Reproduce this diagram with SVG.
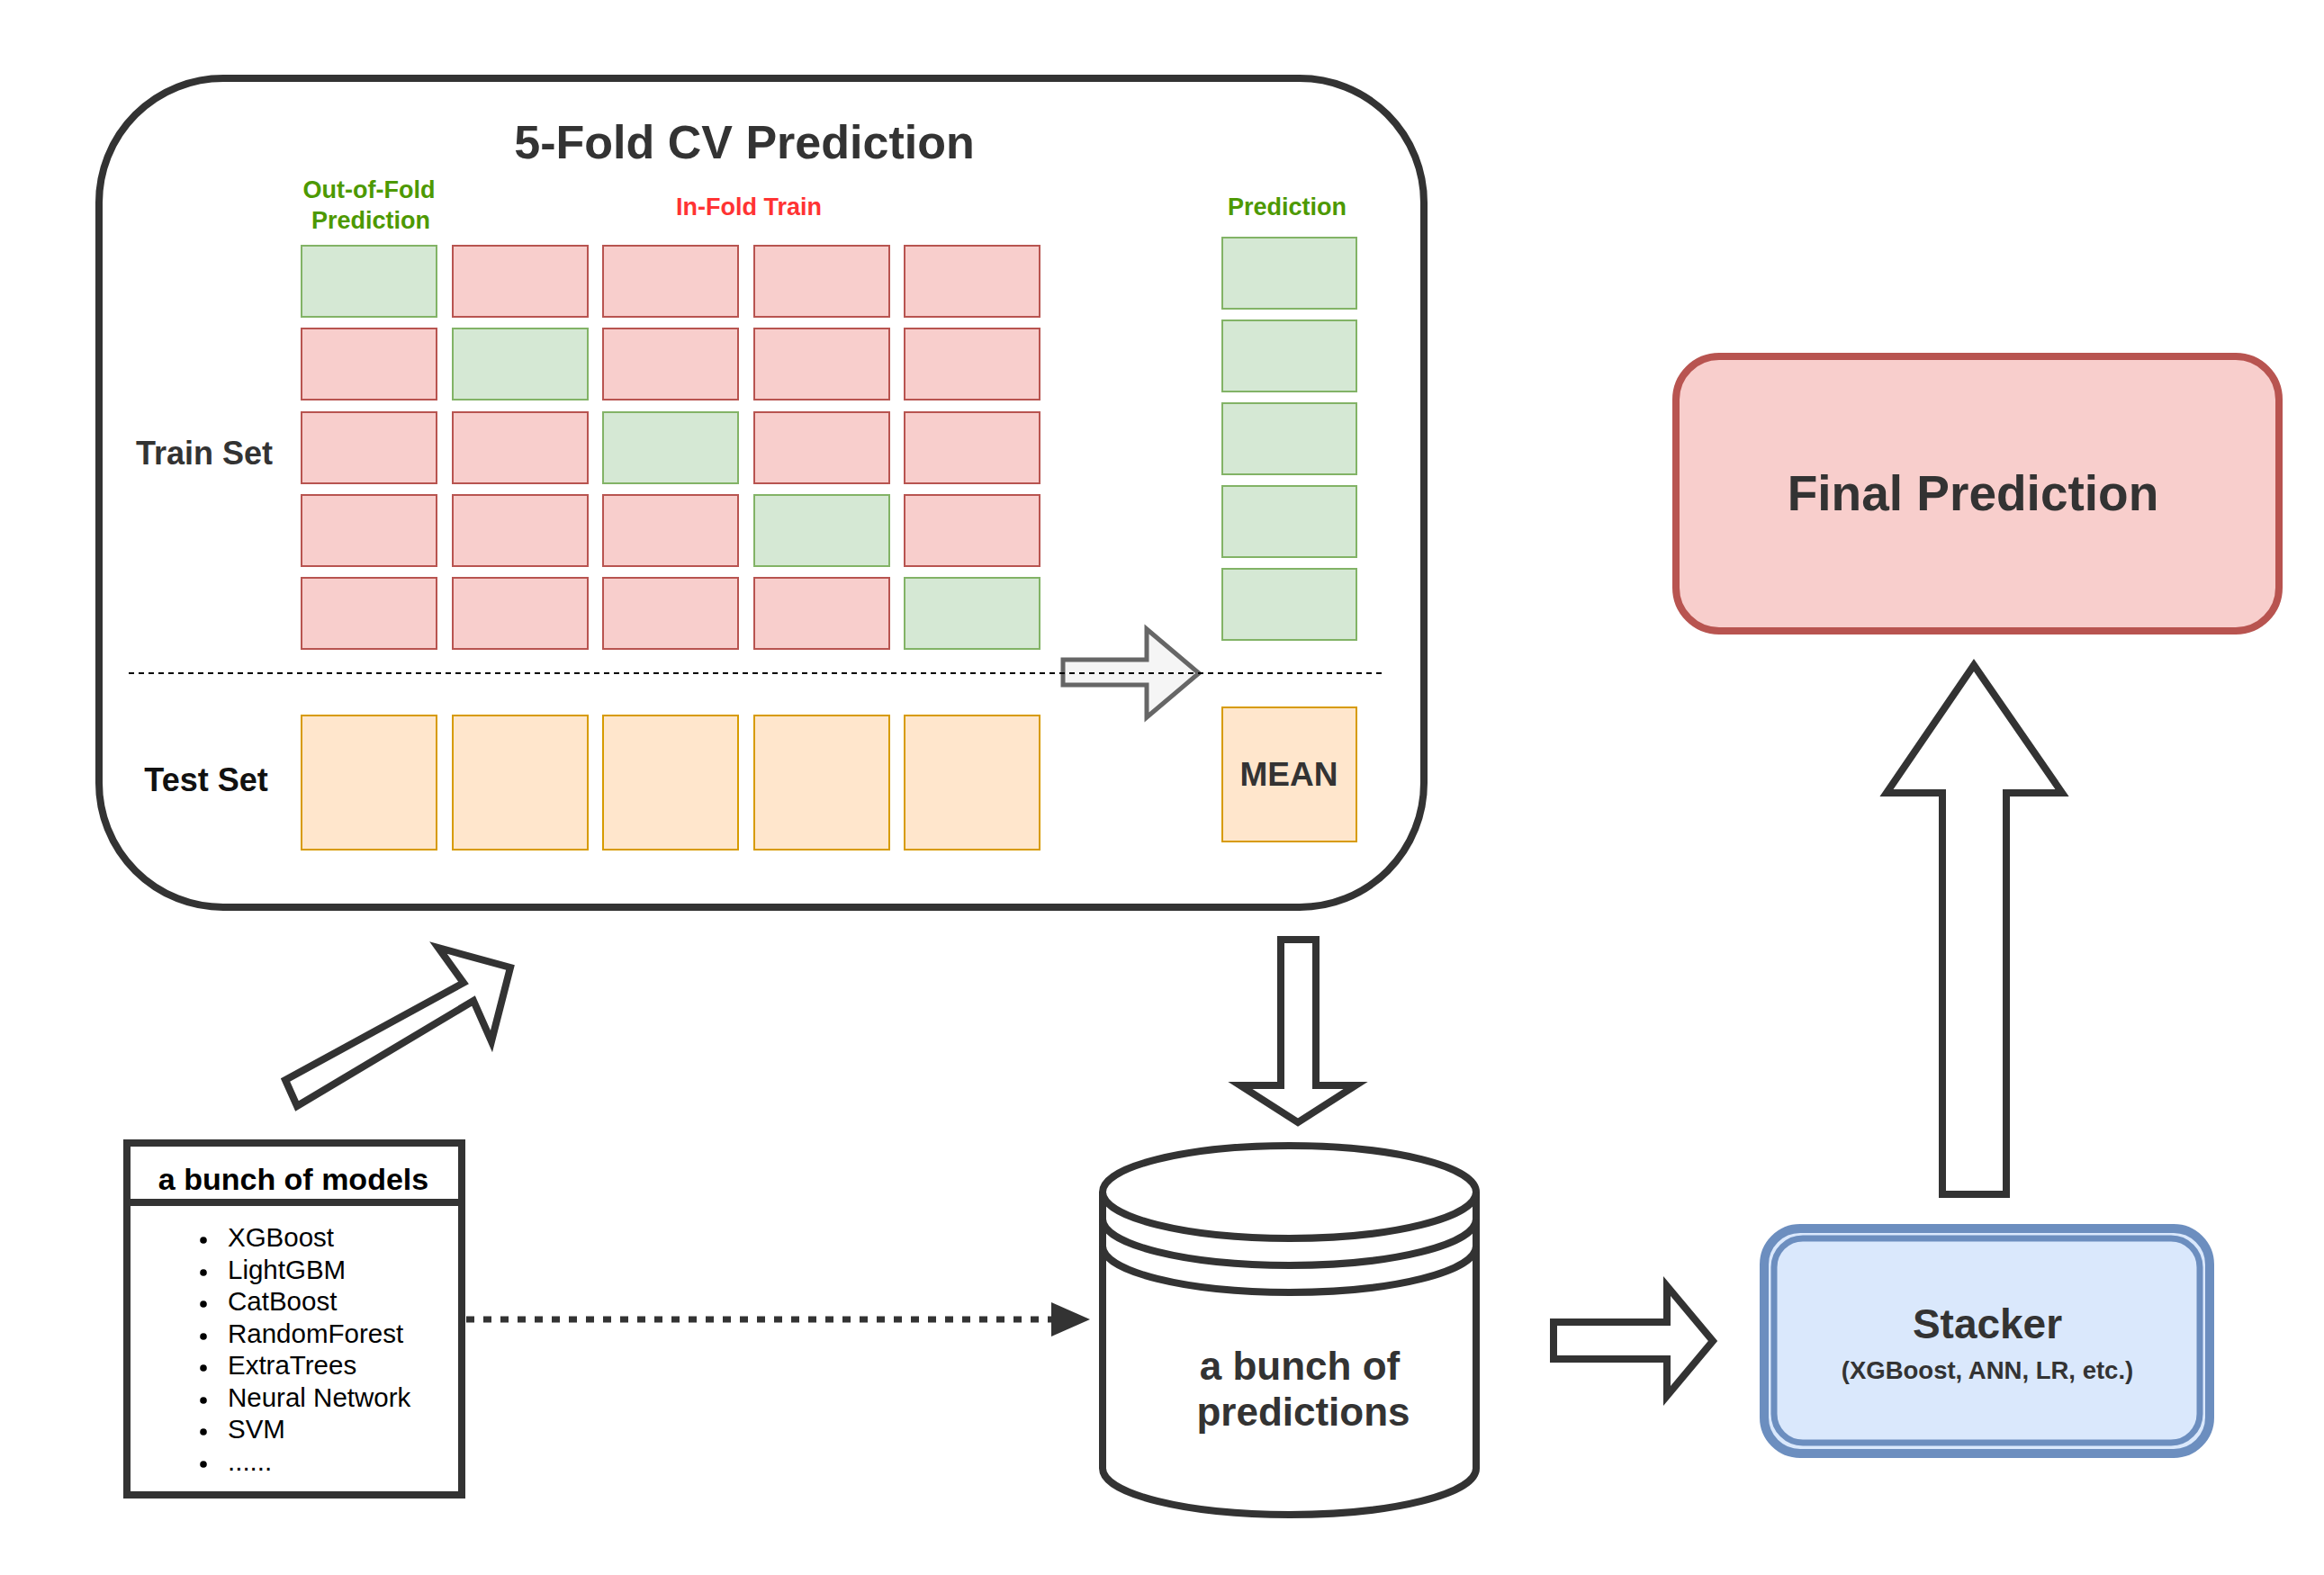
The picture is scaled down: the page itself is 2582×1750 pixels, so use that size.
<svg xmlns="http://www.w3.org/2000/svg" width="2582" height="1750" viewBox="0 0 2582 1750">
<style>
text{font-family:"Liberation Sans",Arial,Helvetica,sans-serif}
.b{font-weight:bold}
.dk{fill:#333333}
.pk{fill:#f8cecc;stroke:#b85450;stroke-width:2}
.gr{fill:#d5e8d4;stroke:#82b366;stroke-width:2}
.or{fill:#ffe6cc;stroke:#d79b00;stroke-width:2}
.bigarrow{fill:#ffffff;stroke:#333333;stroke-width:8;stroke-linejoin:miter}
.gtxt{fill:#4d9900;font-weight:bold;font-size:27px}
.li{font-size:29.5px;fill:#000}
</style>
<rect x="0" y="0" width="2582" height="1750" fill="#ffffff"/>

<g id="cv-box">
<rect x="110" y="87" width="1472" height="921" rx="138" ry="138" fill="#ffffff" stroke="#333333" stroke-width="8"/>
<text x="827" y="176" text-anchor="middle" class="b dk" font-size="52">5-Fold CV Prediction</text>
<text x="410" y="220" text-anchor="middle" class="gtxt">Out-of-Fold</text>
<text x="412" y="254" text-anchor="middle" class="gtxt">Prediction</text>
<text x="832" y="239" text-anchor="middle" class="b" font-size="27" fill="#ff3333">In-Fold Train</text>
<text x="1430" y="239" text-anchor="middle" class="gtxt">Prediction</text>
<text x="227" y="516" text-anchor="middle" class="b dk" font-size="36">Train Set</text>
<text x="229" y="879" text-anchor="middle" class="b" font-size="36" fill="#111111">Test Set</text>
</g>

<g id="train-grid">
<rect class="gr" x="335" y="273" width="150" height="79"/>
<rect class="pk" x="503" y="273" width="150" height="79"/>
<rect class="pk" x="670" y="273" width="150" height="79"/>
<rect class="pk" x="838" y="273" width="150" height="79"/>
<rect class="pk" x="1005" y="273" width="150" height="79"/>

<rect class="pk" x="335" y="365" width="150" height="79"/>
<rect class="gr" x="503" y="365" width="150" height="79"/>
<rect class="pk" x="670" y="365" width="150" height="79"/>
<rect class="pk" x="838" y="365" width="150" height="79"/>
<rect class="pk" x="1005" y="365" width="150" height="79"/>

<rect class="pk" x="335" y="458" width="150" height="79"/>
<rect class="pk" x="503" y="458" width="150" height="79"/>
<rect class="gr" x="670" y="458" width="150" height="79"/>
<rect class="pk" x="838" y="458" width="150" height="79"/>
<rect class="pk" x="1005" y="458" width="150" height="79"/>

<rect class="pk" x="335" y="550" width="150" height="79"/>
<rect class="pk" x="503" y="550" width="150" height="79"/>
<rect class="pk" x="670" y="550" width="150" height="79"/>
<rect class="gr" x="838" y="550" width="150" height="79"/>
<rect class="pk" x="1005" y="550" width="150" height="79"/>

<rect class="pk" x="335" y="642" width="150" height="79"/>
<rect class="pk" x="503" y="642" width="150" height="79"/>
<rect class="pk" x="670" y="642" width="150" height="79"/>
<rect class="pk" x="838" y="642" width="150" height="79"/>
<rect class="gr" x="1005" y="642" width="150" height="79"/>
</g>

<g id="pred-column">
<rect class="gr" x="1358" y="264" width="149" height="79"/>
<rect class="gr" x="1358" y="356" width="149" height="79"/>
<rect class="gr" x="1358" y="448" width="149" height="79"/>
<rect class="gr" x="1358" y="540" width="149" height="79"/>
<rect class="gr" x="1358" y="632" width="149" height="79"/>
</g>

<g id="test-row">
<rect class="or" x="335" y="795" width="150" height="149"/>
<rect class="or" x="503" y="795" width="150" height="149"/>
<rect class="or" x="670" y="795" width="150" height="149"/>
<rect class="or" x="838" y="795" width="150" height="149"/>
<rect class="or" x="1005" y="795" width="150" height="149"/>
</g>

<g id="mean">
<rect class="or" x="1358" y="786" width="149" height="149"/>
<text x="1432" y="873" text-anchor="middle" class="b dk" font-size="37">MEAN</text>
</g>

<g id="final-prediction">
<rect x="1862" y="396" width="670" height="305" rx="48" ry="48" fill="#f8cecc" stroke="#b85450" stroke-width="8"/>
<text x="2192" y="567" text-anchor="middle" class="b dk" font-size="55">Final Prediction</text>
</g>

<g id="stacker">
<rect x="1960" y="1365" width="495" height="250" rx="40" ry="40" fill="#dae8fc" stroke="#6c8ebf" stroke-width="10"/>
<rect x="1971" y="1376" width="473" height="227" rx="32" ry="32" fill="#dae8fc" stroke="#6c8ebf" stroke-width="7"/>
<text x="2208" y="1487" text-anchor="middle" class="b dk" font-size="46">Stacker</text>
<text x="2208" y="1532" text-anchor="middle" class="b dk" font-size="27.5">(XGBoost, ANN, LR, etc.)</text>
</g>

<g id="predictions-store">
<path d="M1225,1324.5 A207.5,51.5 0 0 1 1640,1324.5 L1640,1631.5 A207.5,51.5 0 0 1 1225,1631.5 Z" fill="#ffffff" stroke="#333333" stroke-width="8"/>
<path d="M1225,1324.5 A207.5,51.5 0 0 0 1640,1324.5 M1225,1354.5 A207.5,51.5 0 0 0 1640,1354.5 M1225,1384.5 A207.5,51.5 0 0 0 1640,1384.5" fill="none" stroke="#333333" stroke-width="8"/>
<text x="1444" y="1533" text-anchor="middle" class="b dk" font-size="44">a bunch of</text>
<text x="1448" y="1584" text-anchor="middle" class="b dk" font-size="44">predictions</text>
</g>

<g id="models">
<rect x="141" y="1270" width="372" height="391" fill="#ffffff" stroke="#333333" stroke-width="8"/>
<line x1="141" y1="1336" x2="513" y2="1336" stroke="#333333" stroke-width="8"/>
<text x="326" y="1322" text-anchor="middle" class="b" font-size="34" fill="#000">a bunch of models</text>
<g fill="#000">
<circle cx="226" cy="1378" r="3.8"/>
<circle cx="226" cy="1414" r="3.8"/>
<circle cx="226" cy="1449" r="3.8"/>
<circle cx="226" cy="1485" r="3.8"/>
<circle cx="226" cy="1520" r="3.8"/>
<circle cx="226" cy="1556" r="3.8"/>
<circle cx="226" cy="1591" r="3.8"/>
<circle cx="226" cy="1627" r="3.8"/>
</g>
<text class="li" x="253" y="1385">XGBoost</text>
<text class="li" x="253" y="1421">LightGBM</text>
<text class="li" x="253" y="1456">CatBoost</text>
<text class="li" x="253" y="1492">RandomForest</text>
<text class="li" x="253" y="1527">ExtraTrees</text>
<text class="li" x="253" y="1563">Neural Network</text>
<text class="li" x="253" y="1598">SVM</text>
<text class="li" x="253" y="1634">......</text>
</g>

<g id="connectors">
<polygon points="1181,733 1274,733 1274,699 1332,748 1274,797 1274,761 1181,761" fill="#f5f5f5" stroke="#666666" stroke-width="5"/>
<line x1="143" y1="748" x2="1540" y2="748" stroke="#000000" stroke-width="2" stroke-dasharray="6 5"/>
<polygon class="bigarrow" points="317,1200 515,1092 487,1053 567,1075 546,1157 526,1112 330,1229"/>
<polygon class="bigarrow" points="1423,1044 1462,1044 1462,1206 1506,1206 1442,1247 1378,1206 1423,1206"/>
<polygon class="bigarrow" points="1726,1469 1852,1469 1852,1429 1903,1490 1852,1551 1852,1510 1726,1510"/>
<polygon class="bigarrow" points="2193,739 2291,881 2229,881 2229,1327 2158,1327 2158,881 2096,881"/>
<line x1="518" y1="1466" x2="1172" y2="1466" stroke="#333333" stroke-width="7" stroke-dasharray="9 10"/>
<path d="M1168,1447 L1211,1466 L1168,1485 Z" fill="#333333"/>
</g>
</svg>
